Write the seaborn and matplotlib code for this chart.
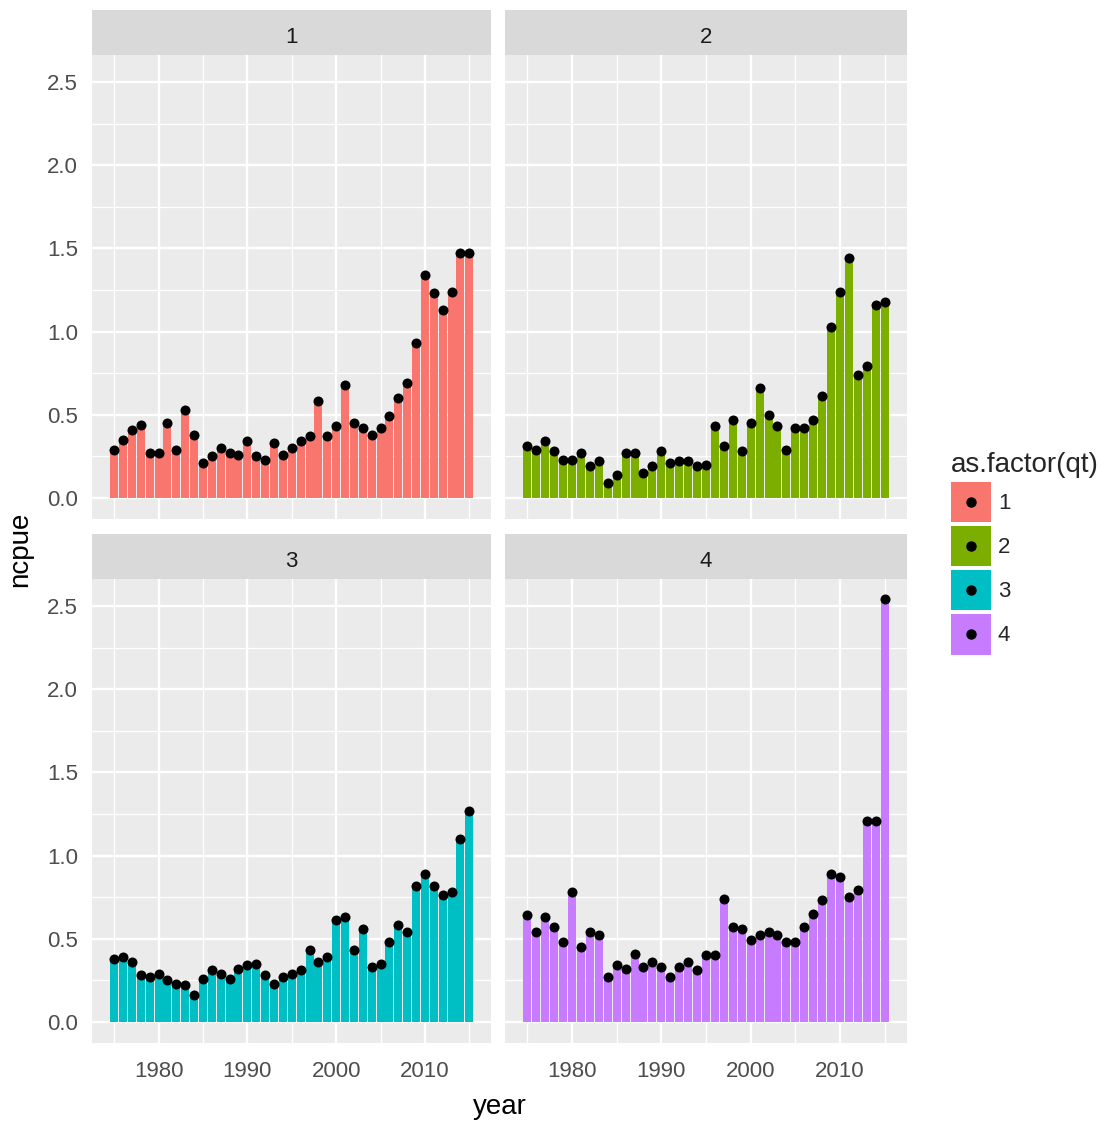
import numpy as np
import pandas as pd
import matplotlib
matplotlib.use('Agg')
import matplotlib.pyplot as plt
from matplotlib.patches import Patch, Rectangle
from matplotlib.lines import Line2D
from matplotlib.ticker import MultipleLocator
import seaborn as sns

# data
years = list(range(1975, 2016))

ncpue_q1 = [0.29, 0.35, 0.41, 0.44, 0.27, 0.27, 0.45, 0.29, 0.53, 0.38,
            0.21, 0.25, 0.30, 0.27, 0.26, 0.34, 0.25, 0.23, 0.33, 0.26,
            0.30, 0.34, 0.37, 0.58, 0.37, 0.43, 0.68, 0.45, 0.42, 0.38,
            0.42, 0.49, 0.60, 0.69, 0.93, 1.34, 1.23, 1.13, 1.24, 1.47, 1.47]

ncpue_q2 = [0.31, 0.29, 0.34, 0.28, 0.23, 0.23, 0.27, 0.19, 0.22, 0.09,
            0.14, 0.27, 0.27, 0.15, 0.19, 0.28, 0.21, 0.22, 0.22, 0.19,
            0.20, 0.43, 0.31, 0.47, 0.28, 0.45, 0.66, 0.50, 0.43, 0.29,
            0.42, 0.42, 0.47, 0.61, 1.03, 1.24, 1.44, 0.74, 0.79, 1.16, 1.18]

ncpue_q3 = [0.38, 0.39, 0.36, 0.28, 0.27, 0.29, 0.25, 0.23, 0.22, 0.16,
            0.26, 0.31, 0.29, 0.26, 0.32, 0.34, 0.35, 0.28, 0.23, 0.27,
            0.29, 0.31, 0.43, 0.36, 0.39, 0.61, 0.63, 0.43, 0.56, 0.33,
            0.35, 0.48, 0.58, 0.54, 0.82, 0.89, 0.82, 0.76, 0.78, 1.10, 1.27]

ncpue_q4 = [0.64, 0.54, 0.63, 0.57, 0.48, 0.78, 0.45, 0.54, 0.52, 0.27,
            0.34, 0.32, 0.41, 0.33, 0.36, 0.33, 0.27, 0.33, 0.36, 0.31,
            0.40, 0.40, 0.74, 0.57, 0.56, 0.49, 0.52, 0.54, 0.52, 0.48,
            0.48, 0.57, 0.65, 0.73, 0.89, 0.87, 0.75, 0.79, 1.21, 1.21, 2.54]

qt_levels = ['1', '2', '3', '4']
qt_colors = ['#F8766D', '#7CAE00', '#00BFC4', '#C77CFF']

df = pd.concat([
    pd.DataFrame({'year': years, 'ncpue': v, 'qt': q})
    for q, v in zip(qt_levels, [ncpue_q1, ncpue_q2, ncpue_q3, ncpue_q4])
])

sns.set_theme(style='white')
plt.rcParams['font.family'] = ['Liberation Sans', 'DejaVu Sans']

W, H = 1107, 1124
fig = plt.figure(figsize=(W / 100, H / 100), dpi=100)

def box(l, t, r, b):
    # pixel box -> figure fraction
    return [l / W, 1 - b / H, (r - l) / W, (b - t) / H]

cols = [(92, 491.5), (505, 907)]
rows = [(10, 55, 519), (534, 579, 1043)]

for i, q in enumerate(qt_levels):
    r, c = divmod(i, 2)
    l, rr = cols[c]
    st, pt, pb = rows[r]
    ax = fig.add_axes(box(l, pt, rr, pb))
    sax = fig.add_axes(box(l, st, rr, pt))
    sax.set_facecolor('#D9D9D9')
    sax.set_xticks([])
    sax.set_yticks([])
    for s in sax.spines.values():
        s.set_visible(False)
    sax.text(0.5, 0.38, q, ha='center', va='center', fontsize=16, color='#1A1A1A')

    sub = df[df['qt'] == q]
    sns.barplot(data=sub, x='year', y='ncpue', native_scale=True, width=0.9,
                color=qt_colors[i], saturation=1, errorbar=None, linewidth=0, ax=ax)
    sns.scatterplot(data=sub, x='year', y='ncpue', color='black', s=52,
                    linewidth=0, ax=ax, zorder=3)

    ax.set_facecolor('#EBEBEB')
    ax.set_xlim(1972.5, 2017.5)
    ax.set_ylim(-0.127, 2.663)
    ax.xaxis.set_major_locator(MultipleLocator(10))
    ax.xaxis.set_minor_locator(MultipleLocator(5))
    ax.yaxis.set_major_locator(MultipleLocator(0.5))
    ax.yaxis.set_minor_locator(MultipleLocator(0.25))
    ax.grid(which='major', color='white', linewidth=1.7)
    ax.grid(which='minor', color='white', linewidth=0.9)
    ax.set_axisbelow(True)
    for s in ax.spines.values():
        s.set_visible(False)
    ax.tick_params(which='major', length=5, width=1, color='#333333',
                   labelsize=16, labelcolor='#4D4D4D')
    ax.tick_params(axis='x', which='major', pad=8)
    ax.tick_params(axis='y', which='major', pad=5)
    ax.tick_params(which='minor', length=0)
    ax.set_xlabel('')
    ax.set_ylabel('')
    ax.yaxis.set_major_formatter(plt.FuncFormatter(lambda v, p: f'{v:.1f}'))
    if c == 1:
        ax.tick_params(axis='y', which='major', length=0, labelleft=False)
    if r == 0:
        ax.tick_params(axis='x', which='major', length=0, labelbottom=False)

fig.text(20 / W, 1 - 549 / H, 'ncpue', rotation=90, ha='center', va='center',
         fontsize=20, color='black')
fig.text(499.5 / W, 1 - 1107 / H, 'year', ha='center', va='center',
         fontsize=20, color='black')


class KeyHandler:
    # ggplot-like key: filled square with a black dot in the middle
    def legend_artist(self, legend, orig_handle, fontsize, handlebox):
        x0, y0 = -handlebox.xdescent, -handlebox.ydescent
        w, h = handlebox.width, handlebox.height
        tr = handlebox.get_transform()
        rect = Rectangle((x0, y0), w, h, facecolor=orig_handle.get_facecolor(),
                         edgecolor='none', transform=tr)
        dot = Line2D([x0 + w / 2], [y0 + h / 2], marker='o', color='black',
                     linestyle='none', markersize=6.5, transform=tr)
        handlebox.add_artist(rect)
        handlebox.add_artist(dot)
        return rect


handles = [Patch(facecolor=col, edgecolor='none') for col in qt_colors]
leg = fig.legend(handles, qt_levels, title='as.factor(qt)', loc='upper left',
                 bbox_to_anchor=(940 / W, 1 - 441 / H), frameon=False,
                 fontsize=16, title_fontsize=20, handlelength=1.8, handleheight=2.4,
                 labelspacing=0.18, handletextpad=0.3, borderpad=0, alignment='left',
                 handler_map={Patch: KeyHandler()})

fig.savefig('out.png', dpi=100)
